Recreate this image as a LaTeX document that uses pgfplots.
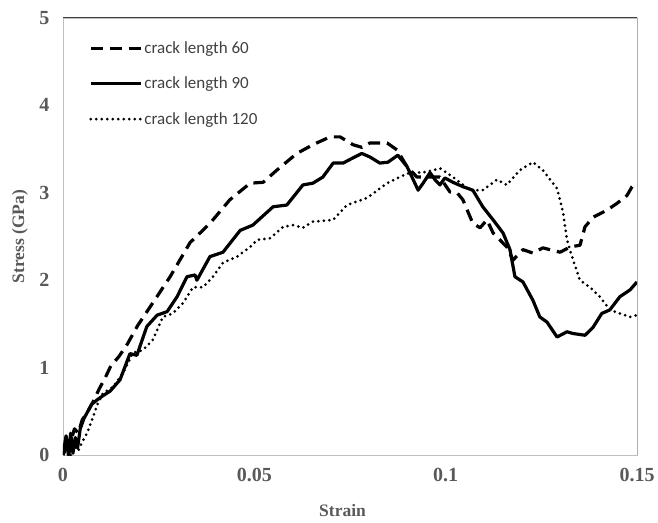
\documentclass[border=0pt]{standalone}
\usepackage{pgfplots}
\pgfplotsset{compat=1.18}
\usepackage{fontspec}
\setmainfont{Liberation Serif}
\newfontfamily\legfont{Carlito}
\definecolor{lblgray}{HTML}{595959}
\definecolor{leggray}{HTML}{404040}
\definecolor{axgray}{HTML}{BFBFBF}
\begin{document}
\begin{tikzpicture}
\begin{axis}[
  scale only axis, width=574pt, height=437pt,
  xmin=0, xmax=0.15, ymin=0, ymax=5,
  xtick={0,0.05,0.1,0.15}, xticklabels={0,0.05,0.1,0.15},
  ytick={0,1,2,3,4,5}, yticklabels={0,1,2,3,4,5},
  major tick length=0pt,
  axis line style={draw=axgray, line width=0.8pt},
  tick label style={font=\bfseries\fontsize{20}{20}\selectfont, text=lblgray},
  xticklabel style={yshift=-10pt},
  yticklabel style={xshift=-10pt},
  xlabel={Strain}, ylabel={Stress (GPa)},
  label style={font=\bfseries\fontsize{17.5}{17.5}\selectfont, text=lblgray},
  xlabel style={at={(axis description cs:0.487,-0.126)}, anchor=center},
  ylabel style={at={(axis description cs:-0.075,0.5)}, anchor=center},
  legend style={at={(axis description cs:0.04,0.955)}, anchor=north west, draw=none, fill=none,
    font=\legfont\fontsize{17}{17}\selectfont, text=leggray, row sep=18pt,
    legend cell align=left},
  legend image code/.code={\draw[#1] (0pt,0pt) -- (50pt,0pt);},
  every axis plot/.append style={line join=round},
  clip=true,
]
\addplot[black, line width=3.2pt, dash pattern=on 12pt off 7pt] coordinates {
(0,0) (0.001,0.1) (0.0015,0) (0.002,0.15) (0.003,0.3) (0.004,0.25) (0.005,0.4) (0.0065,0.5) (0.008,0.62) (0.0095,0.76) (0.011,0.88) (0.0125,1.02) (0.0145,1.12) (0.0167,1.26) (0.0195,1.48) (0.0227,1.69) (0.028,2.04) (0.0332,2.43) (0.0384,2.65) (0.0436,2.92) (0.0489,3.11) (0.0523,3.12) (0.0559,3.26) (0.0611,3.45) (0.0653,3.55) (0.0698,3.64) (0.0724,3.64) (0.0758,3.55) (0.0781,3.52) (0.0802,3.57) (0.0847,3.57) (0.0873,3.49) (0.0899,3.30) (0.0925,3.18) (0.0951,3.18) (0.0985,3.18) (0.1011,3.01) (0.1030,3.0) (0.1045,2.92) (0.1071,2.65) (0.109,2.6) (0.1108,2.69) (0.1124,2.54) (0.1142,2.46) (0.116,2.38) (0.1176,2.23) (0.1202,2.35) (0.1228,2.31) (0.1254,2.37) (0.1299,2.32) (0.1325,2.38) (0.1351,2.40) (0.1364,2.61) (0.1385,2.72) (0.1421,2.80) (0.1448,2.88) (0.1474,2.97) (0.1487,3.07) (0.15,3.12)
};
\addlegendentry{crack length 60}
\addplot[black, line width=3.2pt] coordinates {
(0,0) (0.0008,0.22) (0.0014,0) (0.002,0.25) (0.0026,0.02) (0.0032,0.2) (0.0038,0.08) (0.0045,0.3) (0.0055,0.42) (0.0065,0.5) (0.0075,0.58) (0.0089,0.63) (0.0105,0.68) (0.0123,0.73) (0.0149,0.86) (0.0175,1.16) (0.0193,1.14) (0.0219,1.47) (0.0246,1.6) (0.0272,1.64) (0.0298,1.81) (0.0324,2.04) (0.0345,2.06) (0.035,2.0) (0.0384,2.27) (0.0418,2.32) (0.0463,2.57) (0.0496,2.63) (0.0549,2.84) (0.0585,2.86) (0.0627,3.09) (0.0653,3.11) (0.0679,3.18) (0.0706,3.34) (0.0732,3.34) (0.0758,3.40) (0.0781,3.45) (0.0802,3.41) (0.0828,3.34) (0.0849,3.35) (0.0875,3.43) (0.0899,3.30) (0.0912,3.18) (0.0928,3.03) (0.0941,3.11) (0.0959,3.23) (0.0972,3.15) (0.0985,3.09) (0.0998,3.17) (0.1019,3.12) (0.1045,3.07) (0.1071,3.03) (0.1097,2.84) (0.1124,2.69) (0.115,2.54) (0.1168,2.35) (0.1181,2.04) (0.1202,1.98) (0.1228,1.77) (0.1246,1.58) (0.1265,1.52) (0.1291,1.35) (0.1317,1.41) (0.1333,1.39) (0.1364,1.37) (0.1385,1.46) (0.1408,1.62) (0.1429,1.66) (0.1455,1.81) (0.1482,1.89) (0.15,1.98)
};
\addlegendentry{crack length 90}
\addplot[black, line width=3pt, line cap=round, dash pattern=on 0pt off 5.5pt] coordinates {
(0.002,0) (0.003,0.1) (0.004,0.05) (0.005,0.15) (0.0063,0.25) (0.0078,0.43) (0.0092,0.6) (0.0105,0.71) (0.0131,0.78) (0.0157,0.94) (0.0183,1.17) (0.0209,1.2) (0.0235,1.32) (0.0261,1.58) (0.0287,1.62) (0.0314,1.74) (0.034,1.92) (0.0366,1.92) (0.0392,2.04) (0.0418,2.2) (0.0455,2.27) (0.0489,2.38) (0.0507,2.46) (0.0541,2.48) (0.0575,2.61) (0.0601,2.63) (0.0627,2.6) (0.0653,2.67) (0.0706,2.69) (0.0742,2.86) (0.0794,2.94) (0.0847,3.11) (0.0899,3.22) (0.0951,3.24) (0.0985,3.28) (0.1019,3.18) (0.1063,3.03) (0.1097,3.03) (0.1134,3.15) (0.116,3.09) (0.1194,3.26) (0.1228,3.35) (0.1254,3.26) (0.1291,3.05) (0.1307,2.77) (0.1317,2.46) (0.1333,2.23) (0.1351,2.0) (0.1377,1.92) (0.1403,1.81) (0.1429,1.66) (0.1455,1.62) (0.1482,1.58) (0.15,1.6)
};
\addlegendentry{crack length 120}
\draw[draw=black!75, line width=1pt] (rel axis cs:0,1) -- (rel axis cs:1,1) -- (rel axis cs:1,0);
\end{axis}
\pgfresetboundingbox
\path (-63pt,-67pt) rectangle (595pt,455pt);
\end{tikzpicture}
\end{document}
